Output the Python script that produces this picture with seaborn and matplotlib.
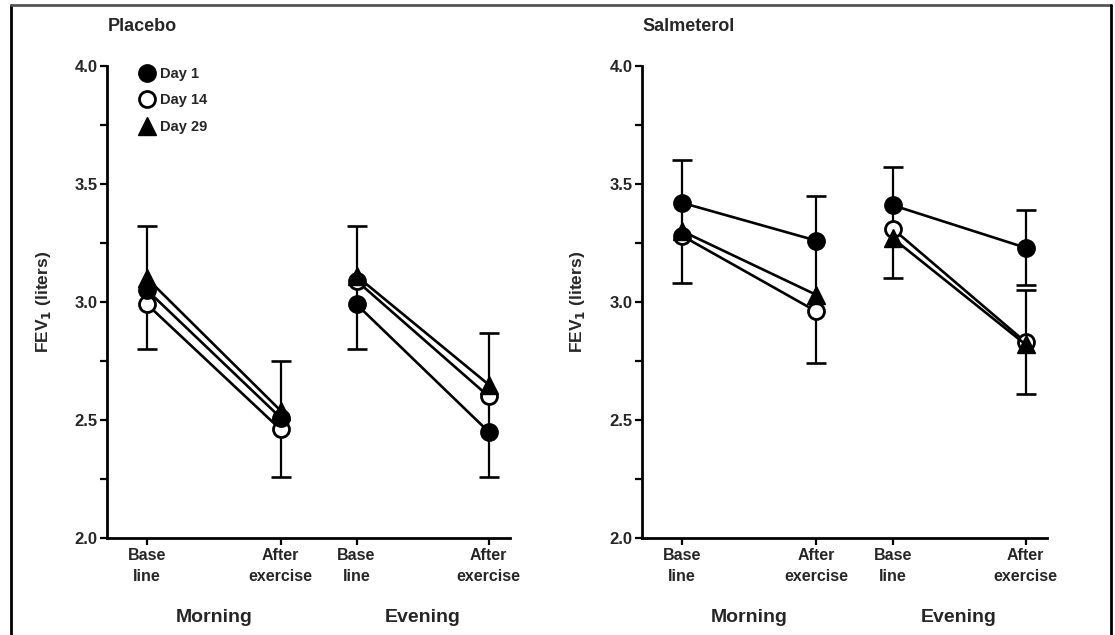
import numpy as np
import pandas as pd
import matplotlib
matplotlib.use("Agg")
import matplotlib.pyplot as plt
from matplotlib.lines import Line2D
import seaborn as sns

# x layout of the four time points and their labels
positions = [0, 1, 1.57, 2.56]
time_labels = ['Base\nline', 'After\nexercise', 'Base\nline', 'After\nexercise']
sessions = ['Morning', 'Morning', 'Evening', 'Evening']
days = ['Day 1', 'Day 14', 'Day 29']

# FEV1 means (liters)
placebo_day1 = [3.05, 2.51, 2.99, 2.45]
placebo_day14 = [2.99, 2.46, 3.09, 2.60]
placebo_day29 = [3.10, 2.54, 3.11, 2.65]
salmeterol_day1 = [3.42, 3.26, 3.41, 3.23]
salmeterol_day14 = [3.28, 2.96, 3.31, 2.83]
salmeterol_day29 = [3.30, 3.03, 3.27, 2.82]

# error bars: time point index, lower and upper end
placebo_err_idx = [0, 1, 2, 3]
placebo_err_low = [2.80, 2.26, 2.80, 2.26]
placebo_err_high = [3.32, 2.75, 3.32, 2.87]
salmeterol_err_idx = [0, 1, 2, 3, 3]
salmeterol_err_low = [3.08, 2.74, 3.10, 3.07, 2.61]
salmeterol_err_high = [3.60, 3.45, 3.57, 3.39, 3.05]

panels = {
    'Placebo': ([placebo_day1, placebo_day14, placebo_day29],
                placebo_err_idx, placebo_err_low, placebo_err_high),
    'Salmeterol': ([salmeterol_day1, salmeterol_day14, salmeterol_day29],
                   salmeterol_err_idx, salmeterol_err_low, salmeterol_err_high),
}

sns.set_theme(style='ticks')
plt.rcParams['font.family'] = ['Liberation Sans', 'DejaVu Sans']
plt.rcParams['font.weight'] = 'bold'
plt.rcParams['mathtext.default'] = 'bf'

marker_style = {
    'Day 1': dict(marker='o', markersize=12.5, markerfacecolor='black', markeredgecolor='black', markeredgewidth=1.0),
    'Day 14': dict(marker='o', markersize=11.5, markerfacecolor='white', markeredgecolor='black', markeredgewidth=2.0),
    'Day 29': dict(marker='^', markersize=12.5, markerfacecolor='black', markeredgecolor='black', markeredgewidth=1.0),
}
draw_order = ['Day 14', 'Day 29', 'Day 1']

fig = plt.figure(figsize=(11.15, 6.35), dpi=100)
axes = [fig.add_axes([0.096, 0.1528, 0.3614, 0.7433]),
        fig.add_axes([0.5758, 0.1528, 0.3632, 0.7433])]
ylabel_x = [-0.134, -0.136]

for ax, lx, (name, (series, err_idx, err_low, err_high)) in zip(axes, ylabel_x, panels.items()):
    rows = []
    for day, vals in zip(days, series):
        for x, s, v in zip(positions, sessions, vals):
            rows.append({'day': day, 'session': s, 'x': x, 'fev': v})
    df = pd.DataFrame(rows)

    lo = np.array(err_low)
    hi = np.array(err_high)
    ex = [positions[i] for i in err_idx]
    ax.errorbar(ex, (lo + hi) / 2, yerr=(hi - lo) / 2, fmt='none', ecolor='black',
                elinewidth=1.6, capsize=7, capthick=1.9, zorder=2)

    for k, day in enumerate(draw_order):
        sub = df[df['day'] == day]
        sns.lineplot(data=sub, x='x', y='fev', units='session', estimator=None,
                     color='black', linewidth=1.9, ax=ax, legend=False,
                     zorder=3 + k, **marker_style[day])

    ax.set_xlim(-0.3, 2.72)
    ax.set_ylim(2.0, 4.0)
    ax.set_yticks([2.0, 2.5, 3.0, 3.5, 4.0])
    ax.set_yticks([2.25, 2.75, 3.25, 3.75], minor=True)
    ax.set_yticklabels(['2.0', '2.5', '3.0', '3.5', '4.0'], fontsize=12, fontweight='bold')
    ax.set_xticks(positions)
    ax.set_xticklabels(time_labels, fontsize=11.5, fontweight='bold', linespacing=1.5)
    ax.tick_params(axis='both', which='both', direction='out', length=5, width=1.6,
                   color='black', pad=2)
    sns.despine(ax=ax)
    for side in ['left', 'bottom']:
        ax.spines[side].set_linewidth(2.0)
        ax.spines[side].set_color('black')

    ax.set_xlabel('')
    ax.set_ylabel(r'FEV$_1$ (liters)', fontsize=12.5, fontweight='bold')
    ax.yaxis.set_label_coords(lx, 0.5)

    ax.text(0.002, 1.083, name, transform=ax.transAxes, ha='left', va='center',
            fontsize=13, fontweight='bold')
    for sess, xs in [('Morning', positions[:2]), ('Evening', positions[2:])]:
        ax.text(np.mean(xs), -0.168, sess, transform=ax.get_xaxis_transform(),
                ha='center', va='center', fontsize=14, fontweight='bold')

# legend in the placebo panel
handles = [Line2D([], [], linestyle='none', **marker_style[d]) for d in days]
axes[0].legend(handles, days, loc='upper left', bbox_to_anchor=(0.08, 0.998),
               frameon=False, handlelength=1.0, handletextpad=0.4, borderpad=0,
               borderaxespad=0, labelspacing=0.85,
               prop={'size': 10.5, 'weight': 'bold'})

# outer frame of the figure
fig.add_artist(Line2D([0.0099, 0.0099], [0, 0.992], color='black', lw=2))
fig.add_artist(Line2D([0.0099, 0.9964], [0.992, 0.992], color='#555555', lw=2))
fig.add_artist(Line2D([0.9964, 0.9964], [0.992, 0], color='black', lw=2))

fig.savefig('out.png', dpi=100)
